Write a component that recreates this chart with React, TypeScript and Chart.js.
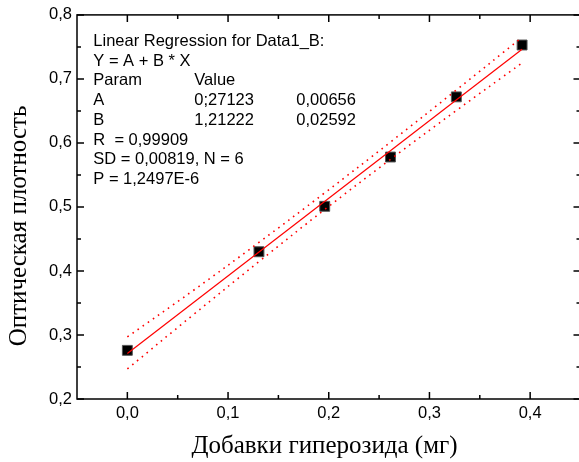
import React, { useEffect, useRef } from "react";
import { Chart, registerables } from "chart.js";

Chart.register(...registerables);

// ---- data ----
const xValues = [0, 0.1307, 0.196, 0.2613, 0.3267, 0.392];
const yValues = [0.276, 0.43, 0.501, 0.578, 0.672, 0.753];

const fitX = [0, 0.392];
const fitY = [0.2712, 0.7464];

const bandX = [0, 0.065, 0.131, 0.196, 0.261, 0.327, 0.392];
const bandUpper = [0.297, 0.369, 0.445, 0.522, 0.601, 0.683, 0.765];
const bandLower = [0.247, 0.331, 0.415, 0.496, 0.574, 0.651, 0.725];

const xRange = [-0.05, 0.45];
const yRange = [0.2, 0.8];
const xTicks = [0, 0.1, 0.2, 0.3, 0.4];
const xMinorTicks = [0.05, 0.15, 0.25, 0.35];
const yTicks = [0.2, 0.3, 0.4, 0.5, 0.6, 0.7, 0.8];
const yMinorTicks = [0.25, 0.35, 0.45, 0.55, 0.65, 0.75];

const xTitle = "Добавки гиперозида (мг)";
const yTitle = "Оптическая плотность";

const headerLines = ["Linear Regression for Data1_B:", "Y = A + B * X"];
const paramRows = [
  ["Param", "Value", ""],
  ["A", "0;27123", "0,00656"],
  ["B", "1,21222", "0,02592"],
];
const footerLines = ["R  = 0,99909", "SD = 0,00819, N = 6", "P = 1,2497E-6"];

const SANS = "'Liberation Sans', Arial, sans-serif";
const SERIF = "'Liberation Serif', 'Times New Roman', serif";

const fmt = (v: number) => Number(v).toFixed(1).replace(".", ",");

const framePlugin = {
  id: "frame",
  afterDraw(chart: any) {
    const { ctx, chartArea: a, scales } = chart;
    const xs = scales.x;
    const ys = scales.y;
    ctx.save();
    ctx.strokeStyle = "#000";
    ctx.lineWidth = 1.5;
    ctx.strokeRect(a.left, a.top, a.right - a.left, a.bottom - a.top);
    ctx.beginPath();
    const xt = (vals: number[], len: number) => {
      vals.forEach((v) => {
        const p = xs.getPixelForValue(v);
        ctx.moveTo(p, a.bottom);
        ctx.lineTo(p, a.bottom - len);
        ctx.moveTo(p, a.top);
        ctx.lineTo(p, a.top + len);
      });
    };
    const yt = (vals: number[], len: number) => {
      vals.forEach((v) => {
        const p = ys.getPixelForValue(v);
        ctx.moveTo(a.left, p);
        ctx.lineTo(a.left + len, p);
        ctx.moveTo(a.right, p);
        ctx.lineTo(a.right - len, p);
      });
    };
    xt(xTicks, 7);
    xt(xMinorTicks, 4);
    yt(yTicks, 7);
    yt(yMinorTicks, 4);
    ctx.stroke();

    // regression text block
    ctx.fillStyle = "#000";
    ctx.font = `16.5px ${SANS}`;
    ctx.textAlign = "left";
    ctx.textBaseline = "alphabetic";
    const x0 = 93.3;
    const cols = [93.3, 194.3, 296.3];
    const step = 19.7;
    let y = 46;
    headerLines.forEach((t) => {
      ctx.fillText(t, x0, y);
      y += step;
    });
    paramRows.forEach((row) => {
      row.forEach((t, i) => ctx.fillText(t, cols[i], y));
      y += step;
    });
    footerLines.forEach((t) => {
      ctx.fillText(t, x0, y);
      y += step;
    });

    // axis titles
    ctx.font = `25px ${SERIF}`;
    ctx.textAlign = "center";
    ctx.fillText(xTitle, 324.5, 453);
    ctx.translate(26, 226);
    ctx.rotate(-Math.PI / 2);
    ctx.fillText(yTitle, 0, 0);
    ctx.restore();
  },
};

export default function App() {
  const ref = useRef<HTMLCanvasElement | null>(null);
  useEffect(() => {
    if (!ref.current) return;
    document.body.style.overflow = "hidden";
    const chart = new Chart(ref.current, {
      type: "scatter",
      data: {
        datasets: [
          {
            label: "points",
            data: xValues.map((x, i) => ({ x, y: yValues[i] })),
            pointStyle: "rect",
            pointRadius: 7,
            backgroundColor: "#000",
            borderColor: "#555",
            borderWidth: 1,
            showLine: false,
            order: 3,
          },
          {
            label: "upper",
            data: bandX.map((x, i) => ({ x, y: bandUpper[i] })),
            showLine: true,
            borderColor: "#ff0000",
            borderWidth: 1.6,
            borderDash: [1.6, 4.6],
            tension: 0.4,
            pointRadius: 0,
            order: 2,
          },
          {
            label: "lower",
            data: bandX.map((x, i) => ({ x, y: bandLower[i] })),
            showLine: true,
            borderColor: "#ff0000",
            borderWidth: 1.6,
            borderDash: [1.6, 4.6],
            tension: 0.4,
            pointRadius: 0,
            order: 2,
          },
          {
            label: "fit",
            data: fitX.map((x, i) => ({ x, y: fitY[i] })),
            showLine: true,
            borderColor: "#ff0000",
            borderWidth: 1.2,
            pointRadius: 0,
            order: 1,
          },
        ],
      },
      options: {
        animation: false,
        responsive: false,
        devicePixelRatio: 1,
        layout: { padding: { left: 0, top: 14, right: 9.5, bottom: 0 } },
        plugins: { legend: { display: false }, tooltip: { enabled: false } },
        scales: {
          x: {
            type: "linear",
            min: xRange[0],
            max: xRange[1],
            afterBuildTicks: (s: any) => {
              s.ticks = xTicks.map((value) => ({ value }));
            },
            afterFit: (s: any) => {
              s.height = 63;
            },
            grid: { display: false, drawTicks: false },
            border: { display: false },
            ticks: {
              padding: 5,
              color: "#000",
              autoSkip: false,
              maxRotation: 0,
              font: { family: SANS, size: 16.5 },
              callback: (v: any) => fmt(v),
            },
          },
          y: {
            type: "linear",
            min: yRange[0],
            max: yRange[1],
            afterBuildTicks: (s: any) => {
              s.ticks = yTicks.map((value) => ({ value }));
            },
            afterFit: (s: any) => {
              s.width = 77;
            },
            grid: { display: false, drawTicks: false },
            border: { display: false },
            ticks: {
              padding: 5,
              color: "#000",
              autoSkip: false,
              font: { family: SANS, size: 16.5 },
              callback: (v: any) => fmt(v),
            },
          },
        },
      },
      plugins: [framePlugin],
    } as any);
    return () => chart.destroy();
  }, []);
  return (
    <div
      style={{
        position: "fixed",
        left: 0,
        top: 0,
        width: 579,
        height: 462,
        overflow: "hidden",
        background: "#fff",
      }}
    >
      <canvas ref={ref} width={590} height={462} style={{ display: "block" }} />
    </div>
  );
}
